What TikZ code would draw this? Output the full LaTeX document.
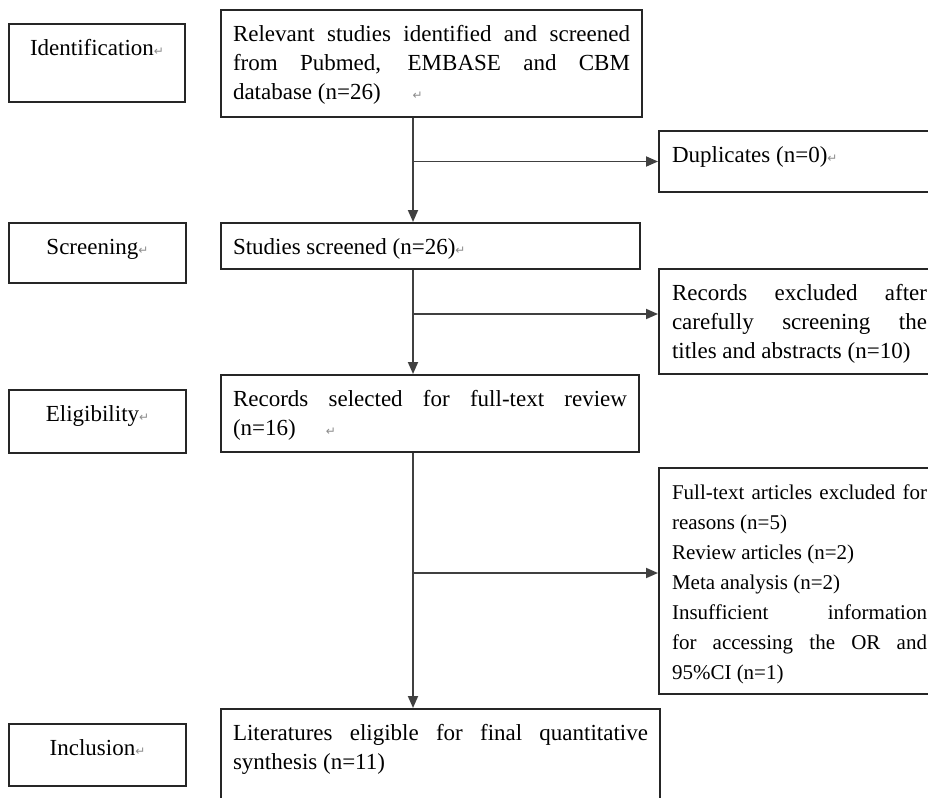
\documentclass[tikz,border=0pt]{standalone}
\usepackage{fontspec}
\setmainfont{Liberation Serif}
\newfontfamily\symfont{DejaVu Sans}
\usetikzlibrary{arrows.meta}
\newcommand{\bodyfont}{\fontsize{23}{29}\selectfont}
\newcommand{\listfont}{\fontsize{21}{30}\selectfont}
\newcommand{\pmark}{{\symfont\fontsize{12}{12}\selectfont\color{black!45}↵}}
\newcommand{\cell}[4][\bodyfont]{\parbox[c][#3pt][t]{#2pt}{#1\strut #4}}
\begin{document}
\begin{tikzpicture}[x=1pt, y=-1pt,
  box/.style={draw=black!85, line width=2pt, anchor=north west,
    inner xsep=12pt, inner ysep=11pt},
  side/.style={box, inner xsep=13pt},
  line/.style={draw=black!75, line width=1.8pt},
  arr/.style={line, -{Triangle[length=12pt,width=10pt]}}]
  \useasboundingbox (0,0) rectangle (928,797);
  \clip (0,0) rectangle (928,797);
  \fill[white] (0,0) rectangle (928,797);

  \node[box] (ident) at (8,23) {\cell[\bodyfont\centering]{152}{56}{Identification\pmark}};
  \node[box] (screening) at (8,222) {\cell[\bodyfont\centering]{153}{38}{Screening\pmark}};
  \node[box] (eligib) at (8,389) {\cell[\bodyfont\centering]{153}{41}{Eligibility\pmark}};
  \node[box] (inclusion) at (8,723) {\cell[\bodyfont\centering]{153}{40}{Inclusion\pmark}};

  \node[box] (found) at (220,9) {\cell{397}{85}{Relevant studies identified and screened\linebreak
    from Pubmed, EMBASE and CBM\linebreak database (n=26)\hspace{32pt}\pmark}};
  \node[box] (screened) at (220,222) {\cell{395}{24}{Studies screened (n=26)\pmark}};
  \node[box] (selected) at (220,374) {\cell{394}{55}{Records selected for full-text review\linebreak
    (n=16)\hspace{30pt}\pmark}};
  \node[box] (final) at (220,708) {\cell{415}{88}{Literatures eligible for final quantitative\linebreak
    synthesis (n=11)}};

  \node[side] (dup) at (658,130) {\cell{255}{39}{Duplicates (n=0)\pmark}};
  \node[side] (excl) at (658,268) {\cell{255}{83}{Records excluded after\linebreak
    carefully screening the\linebreak titles and abstracts (n=10)}};
  \node[side, inner ysep=10pt] (fulltext) at (658,467) {\cell[\listfont]{255}{206}{Full-text articles excluded for\linebreak
    reasons (n=5)\\ Review articles (n=2)\\ Meta analysis (n=2)\\
    Insufficient information\linebreak for accessing the OR and\linebreak 95\%CI (n=1)}};

  \coordinate (trunk) at (413,0);
  \coordinate (exclin) at ([yshift=7.5pt]excl.west);
  \coordinate (fullin) at ([yshift=8pt]fulltext.west);

  \draw[arr] (found.south -| trunk) -- (screened.north -| trunk);
  \draw[arr] (screened.south -| trunk) -- (selected.north -| trunk);
  \draw[arr] (selected.south -| trunk) -- (final.north -| trunk);
  \draw[arr] (trunk |- dup.west) -- (dup.west);
  \draw[arr] (trunk |- exclin) -- (exclin);
  \draw[arr] (trunk |- fullin) -- (fullin);
\end{tikzpicture}
\end{document}
